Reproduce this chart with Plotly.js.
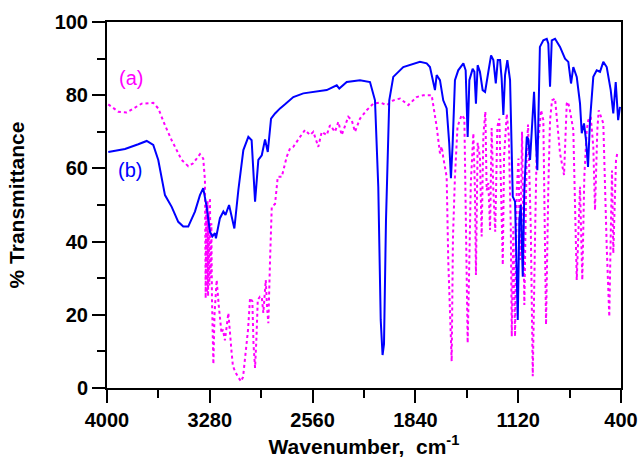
<!DOCTYPE html>
<html>
<head>
<meta charset="utf-8">
<script src="https://cdn.plot.ly/plotly-3.0.1.min.js"></script>
<style>html,body{margin:0;padding:0;background:#fff;}#chart{width:639px;height:458px;}</style>
</head>
<body>
<div id="chart"></div>
<script>
// Spectrum (a): wavenumber (cm-1) and % transmittance
const waveA = [3991,3921,3862,3827,3757,3676,3641,3594,3547,3477,3431,3396,3349,3326,3314,
  3309,3305,3300,3296,3292,3288,3283,3279,3274,3269,3265,3255,3247,3232,3216,3198,3188,3174,3150,3139,3127,3118,3103,3082,3061,3047,3033,3012,
  2998,2982,2974,2963,2953,2944,2928,2916,2905,2888,2879,2870,2858,2846,2823,2804,2776,2741,2718,2695,2648,2613,2578,2555,2520,2496,2461,2438,2403,2380,2356,2310,2286,2263,2228,
  2181,2135,2088,2041,1995,1948,1890,1831,1785,1726,1691,1668,1656,1645,1633,1621,1610,1598,1586,1577,1563,1545,1516,1497,1488,1474,1462,1452,1434,1423,1416,1404,1388,1376,1364,1350,1341,1329,1317,1306,1294,1281,1266,1252,1240,1228,1219,1200,1186,1172,1165,1154,1142,1130,1118,1107,1093,1084,1077,1060,1051,1032,1018,1000,990,974,960,944,925,909,897,883,862,827,799,780,773,762,734,710,687,671,657,640,629,612,594,582,566,556,547,524,500,482,470,463,454,435,426,416,402];
const transA = [77.5,75.5,75.3,76.1,77.7,77.9,76.4,71.8,67.7,62.3,60.6,61.4,63.9,62.7,56.8,
  24.5,50,26,51,25,48,28,52,30,45,25,6.5,20,29.5,22,15,16,13,20.5,14,9.6,6,4.5,3,1.8,3,7.7,16,
  24.6,23.7,12,5.5,14,24.1,25,24.9,20.5,29.5,22,17.7,35,49.5,50.3,57.7,57.7,63.2,65.5,65.9,68.6,70.5,69.1,70,65.9,70,69.1,71.8,70,72.7,69.1,74.1,73.2,70,73.6,
  75.9,77.7,78,77.3,78.6,79.1,77.3,79.5,80,80,71.4,64.1,66,63,60,57.7,35,18.6,7.3,41,57.7,71.4,74.6,73.6,44.1,12.3,35,56,69.6,54,30.9,67,63.2,41.4,69,75.5,54,56,43.2,71,54,42.7,71.4,73.6,54,33.6,63.2,74.9,69,44.1,14.1,44.1,14.1,54,62.7,35,70,48,22.7,65,72,44.1,3.2,45.9,65.9,69.6,75.9,73.2,17.3,55,73.2,78.6,79.1,64.1,58.2,77.7,78.2,76.8,70.5,29.5,55,29.5,57.7,70.5,73.2,74.1,65.9,48.6,70.5,75.9,75,72.3,38.6,19.5,45.9,59.4,36.8,62.3,64.1];

// Spectrum (b): wavenumber (cm-1) and % transmittance
const waveB = [3991,3874,3781,3722,3676,3641,3594,3547,3501,3466,3431,3384,3349,3326,3302,3279,3262,3244,3237,3209,3185,3170,3145,3108,3080,3045,3010,2987,2963,2940,2916,2893,2874,2851,2823,2788,2753,2695,2625,2531,2461,2391,2373,2321,2228,
  2158,2123,2100,2083,2070,2060,2046,2023,1995,1925,1808,1761,1738,1715,1703,1691,1668,1645,1621,1603,1591,1579,1563,1540,1504,1488,1474,1462,1439,1427,1416,1404,1388,1369,1352,1329,1310,1294,1277,1263,1247,1236,1224,1212,1196,1177,1165,1158,1142,1135,1123,1112,1102,1088,1077,1060,1049,1037,1023,1009,995,986,968,944,920,909,897,885,862,827,792,769,750,734,710,687,675,659,645,631,617,594,570,547,524,500,472,454,437,420,407];
const transB = [64.5,65.3,66.6,67.5,66.4,62.3,52.7,49.5,45.4,44.1,44.1,48.2,52.7,54.6,49.5,42.7,41.4,42.3,40.9,46.4,48.2,47.3,50.0,43.6,54.1,65,68.6,67.7,50.9,62.3,63.6,67.9,64.5,73.6,75,76.4,77.5,79.5,80.5,80.9,81.4,82.7,81.8,83.6,84.1,
  83.6,78.6,55,18.6,9,12,45.9,78.6,85,87.7,89.1,88.7,87.7,84.1,81.4,85.5,84.1,78.6,76.4,66.8,57.3,66.8,84.1,86.8,88.7,86.8,68.6,84.1,87.2,86.4,77.7,88.2,86.4,81.4,80.9,86.4,90.9,89.6,83.2,89.6,89.6,84.6,74.6,85.5,89.6,84.1,62.3,52.3,50.9,35,18.6,45.9,50,30.4,54,68.6,68,62.3,71.8,80.9,66.8,59.5,93.2,95,95.4,94.1,82.3,95,95.4,93.2,90,89.1,83.2,87.7,85,77.7,69.6,72.3,67.7,60.4,73.2,85,86.8,86.4,89.1,87.7,81.4,75,83.6,73.2,76.8];

const xTicks = [4000,3280,2560,1840,1120,400];
const yTicks = [0,20,40,60,80,100];
const seriesLabels = ['(a)','(b)'];

const FONT = '"Liberation Sans", Arial, sans-serif';

const traces = [
  {x: waveA, y: transA, type:'scatter', mode:'lines', name:'(a)',
   line:{color:'#ff00ff', width:2, dash:'dot'}},
  {x: waveB, y: transB, type:'scatter', mode:'lines', name:'(b)',
   line:{color:'#0000ff', width:2}}
];

const layout = {
  width:639, height:458,
  margin:{l:107, r:18, t:22, b:70},
  paper_bgcolor:'#fff', plot_bgcolor:'#fff',
  showlegend:false,
  font:{family:FONT, color:'#000'},
  xaxis:{
    range:[4000,400], tickvals:xTicks, ticktext:xTicks.map(String),
    ticks:'outside', ticklen:13, tickwidth:2, tickcolor:'#000',
    minor:{tickvals:[3640,2920,2200,1480,760], ticks:'outside', ticklen:8, tickwidth:2, tickcolor:'#000'},
    showline:true, linewidth:2, linecolor:'#000', mirror:true,
    showgrid:false, zeroline:false,
    tickfont:{family:FONT, size:20, weight:'bold', color:'#000'},
    title:{text:'Wavenumber,  cm<sup>-1</sup>', font:{family:FONT, size:21, weight:'bold', color:'#000'}, standoff:11}
  },
  yaxis:{
    range:[0,100], tickvals:yTicks, ticktext:yTicks.map(String),
    ticks:'outside', ticklen:13, tickwidth:2, tickcolor:'#000',
    minor:{tickvals:[10,30,50,70,90], ticks:'outside', ticklen:8, tickwidth:2, tickcolor:'#000'},
    showline:true, linewidth:2, linecolor:'#000', mirror:true,
    showgrid:false, zeroline:false,
    tickfont:{family:FONT, size:20, weight:'bold', color:'#000'},
    title:{text:'% Transmittance', font:{family:FONT, size:21, weight:'bold', color:'#000'}, standoff:24}
  },
  annotations:[
    {x:3832, y:84.6, xref:'x', yref:'y', text:seriesLabels[0], showarrow:false,
     font:{family:FONT, size:20, color:'#ff00ff'}},
    {x:3839, y:59.5, xref:'x', yref:'y', text:seriesLabels[1], showarrow:false,
     font:{family:FONT, size:20, color:'#0000ff'}}
  ]
};

Plotly.newPlot('chart', traces, layout, {displayModeBar:false, staticPlot:true});
</script>
</body>
</html>
